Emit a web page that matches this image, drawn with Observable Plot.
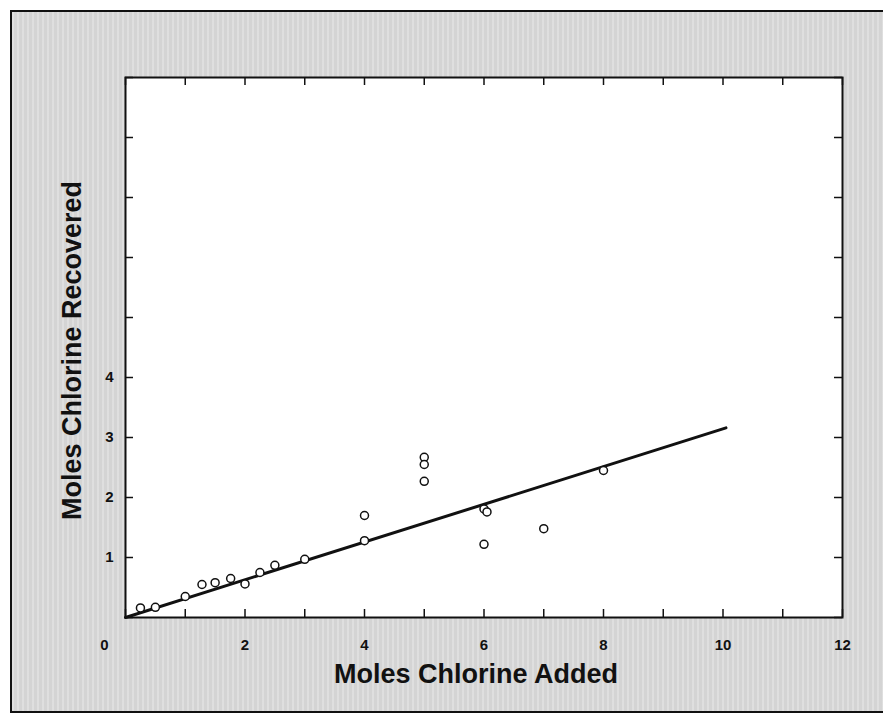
<!DOCTYPE html>
<html><head><meta charset="utf-8">
<script src="https://cdn.jsdelivr.net/npm/d3@7"></script>
<script src="https://cdn.jsdelivr.net/npm/@observablehq/plot@0.6"></script>
<style>
html,body{margin:0;padding:0;background:#fff;}
#wrap{position:relative;width:883px;height:717px;overflow:hidden;}
#bg{position:absolute;left:10px;top:10px;width:880px;height:699px;border:2px solid #111;
  background-color:#d4d4d4;
  background-image:repeating-linear-gradient(90deg, rgba(255,255,255,0.25) 0px, rgba(255,255,255,0.25) 2px, rgba(0,0,0,0) 2px, rgba(0,0,0,0) 5px);}
#chart{position:absolute;left:0;top:0;}
</style></head><body>
<div id="wrap"><div id="bg"></div><div id="chart"></div></div>
<script>
// Data
const addedX     = [0.25, 0.50, 1.00, 1.28, 1.50, 1.76, 2.00, 2.25, 2.50, 3.00, 4.00, 4.00, 5.00, 5.00, 5.00, 6.00, 6.05, 6.00, 7.00, 8.00];
const recoveredY = [0.16, 0.17, 0.35, 0.55, 0.58, 0.65, 0.56, 0.75, 0.87, 0.97, 1.70, 1.28, 2.67, 2.55, 2.27, 1.81, 1.76, 1.22, 1.48, 2.45];
const fitX = [0, 10.05];
const fitY = [0, 3.16];
const xTicks = [0, 1, 2, 3, 4, 5, 6, 7, 8, 9, 10, 11, 12];
const yTicks = [0, 1, 2, 3, 4, 5, 6, 7, 8, 9];
const xTickLabels = [2, 4, 6, 8, 10, 12];
const xZeroLabel = [0];
const yTickLabels = [1, 2, 3, 4];
const xTitle = "Moles Chlorine Added";
const yTitle = "Moles Chlorine Recovered";

const W = 883, H = 717;
const mL = 125, mR = 41, mT = 77, mB = 100;
const innerW = W - mL - mR, innerH = H - mT - mB;
const tickLen = 8;

const points = addedX.map((x, i) => ({x, y: recoveredY[i]}));
const fit = fitX.map((x, i) => ({x, y: fitY[i]}));
const font = {fontSize: 15, fontWeight: "bold", fill: "#111", tickFormat: d => String(d)};

const chart = Plot.plot({
  width: W, height: H,
  marginLeft: mL, marginRight: mR, marginTop: mT, marginBottom: mB,
  x: {domain: [0, 12]},
  y: {domain: [0, 9]},
  style: {fontFamily: "Liberation Sans, Arial, sans-serif", background: "transparent", overflow: "visible"},
  marks: [
    Plot.frame({fill: "white"}),
    Plot.tickX(xTicks, {x: d => d, insetTop: innerH - tickLen, stroke: "#111", strokeWidth: 1.5}),
    Plot.tickX(xTicks, {x: d => d, insetBottom: innerH - tickLen, stroke: "#111", strokeWidth: 1.5}),
    Plot.tickY(yTicks, {y: d => d, insetRight: innerW - tickLen, stroke: "#111", strokeWidth: 1.5}),
    Plot.tickY(yTicks, {y: d => d, insetLeft: innerW - tickLen, stroke: "#111", strokeWidth: 1.5}),
    Plot.line(fit, {x: "x", y: "y", stroke: "#111", strokeWidth: 3}),
    Plot.dot(points, {x: "x", y: "y", r: 4, fill: "white", stroke: "#111", strokeWidth: 1.5}),
    Plot.frame({stroke: "#111", strokeWidth: 2}),
    Plot.axisX(xTickLabels, {tickSize: 0, tickPadding: 22, label: null, ...font}),
    Plot.axisX(xZeroLabel, {tickSize: 0, tickPadding: 22, label: null, dx: -21, ...font}),
    Plot.axisY(yTickLabels, {tickSize: 0, tickPadding: 12, label: null, ...font}),
    Plot.text([xTitle], {frameAnchor: "bottom", textAnchor: "middle", dx: -8, dy: 65, lineAnchor: "bottom", fontSize: 27, fontWeight: "bold", fill: "#111"}),
    Plot.text([yTitle], {frameAnchor: "left", textAnchor: "middle", rotate: -90, dx: -45, dy: 3, lineAnchor: "bottom", fontSize: 27, fontWeight: "bold", fill: "#111"})
  ]
});
document.getElementById("chart").appendChild(chart);
</script>
</body></html>
